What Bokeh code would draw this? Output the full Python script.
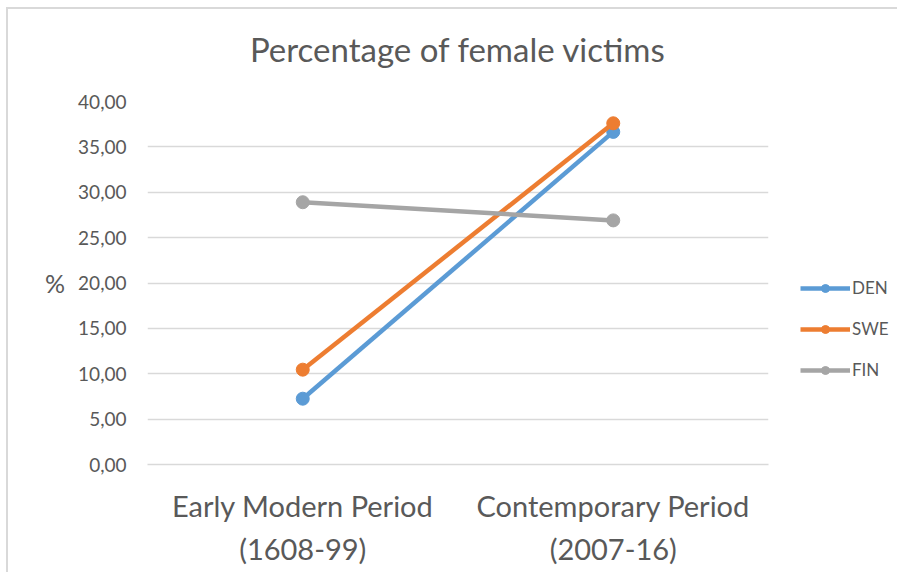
from bokeh.plotting import figure
from bokeh.models import Legend, LegendItem, Title, FactorRange, Range1d, FixedTicker, CustomJSTickFormatter
from bokeh.embed import file_html
from bokeh.resources import INLINE

categories = ["Early Modern Period\n(1608-99)", "Contemporary Period\n(2007-16)"]
den = [7.25, 36.65]
swe = [10.45, 37.6]
fin = [28.9, 26.9]
series_names = ["DEN", "SWE", "FIN"]
colors = ["#5B9BD5", "#ED7D31", "#A5A5A5"]
y_ticks = [0, 5, 10, 15, 20, 25, 30, 35, 40]

FONT = "Lato"
TXT = "#595959"

p = figure(frame_width=621, frame_height=363, output_backend="svg", toolbar_location=None,
           x_range=FactorRange(*categories), y_range=Range1d(0, 40),
           min_border_left=139, min_border_top=92, min_border_right=124, min_border_bottom=108)
p.outline_line_color = None
p.styles = {"margin-left": "6px", "margin-top": "7px",
            "border-left": "2px solid #d9d9d9", "border-top": "2px solid #d9d9d9"}

spacer = Title(text=" ", text_font_size="10px", standoff=20)
p.add_layout(spacer, "above")
t = Title(text="Percentage of female victims", align="center", text_font=FONT,
          text_font_size="33px", text_font_style="normal", text_color=TXT, standoff=0)
p.add_layout(t, "above")

items = []
for name, vals, c in zip(series_names, [den, swe, fin], colors):
    r1 = p.line(categories, vals, line_color=c, line_width=4.5)
    r2 = p.scatter(categories, vals, size=13, fill_color=c, line_color=c)
    items.append(LegendItem(label=name, renderers=[r1, r2]))

legend = Legend(items=items, location=(32, 84), orientation="vertical",
                glyph_width=50, glyph_height=20, label_standoff=2, spacing=20,
                padding=0, margin=0, border_line_color=None, background_fill_alpha=0,
                label_text_font=FONT, label_text_font_size="17px", label_text_color=TXT)
p.add_layout(legend, "right")

p.xgrid.grid_line_color = None
p.ygrid.grid_line_color = "#D9D9D9"
p.ygrid.grid_line_width = 1.5
p.yaxis.ticker = FixedTicker(ticks=y_ticks)
p.yaxis.formatter = CustomJSTickFormatter(code="return tick.toFixed(2).replace('.', ',');")
p.yaxis.axis_line_color = None
p.yaxis.major_tick_line_color = None
p.yaxis.minor_tick_line_color = None
p.yaxis.major_label_text_font = FONT
p.yaxis.major_label_text_font_size = "19px"
p.yaxis.major_label_text_color = TXT
p.yaxis.major_label_standoff = 15
p.yaxis.axis_label = "%"
p.yaxis.axis_label_orientation = "horizontal"
p.yaxis.axis_label_text_font = FONT
p.yaxis.axis_label_text_font_size = "25px"
p.yaxis.axis_label_text_font_style = "normal"
p.yaxis.axis_label_text_color = TXT
p.yaxis.axis_label_standoff = 10

p.xaxis.axis_line_color = "#D9D9D9"
p.xaxis.axis_line_width = 1.5
p.xaxis.major_tick_line_color = None
p.xaxis.minor_tick_line_color = None
p.xaxis.major_label_text_font = FONT
p.xaxis.major_label_text_font_size = "29px"
p.xaxis.major_label_text_color = TXT
p.xaxis.major_label_text_line_height = 1.25
p.xaxis.major_label_standoff = 17

open("out.html", "w").write(file_html(p, INLINE))
